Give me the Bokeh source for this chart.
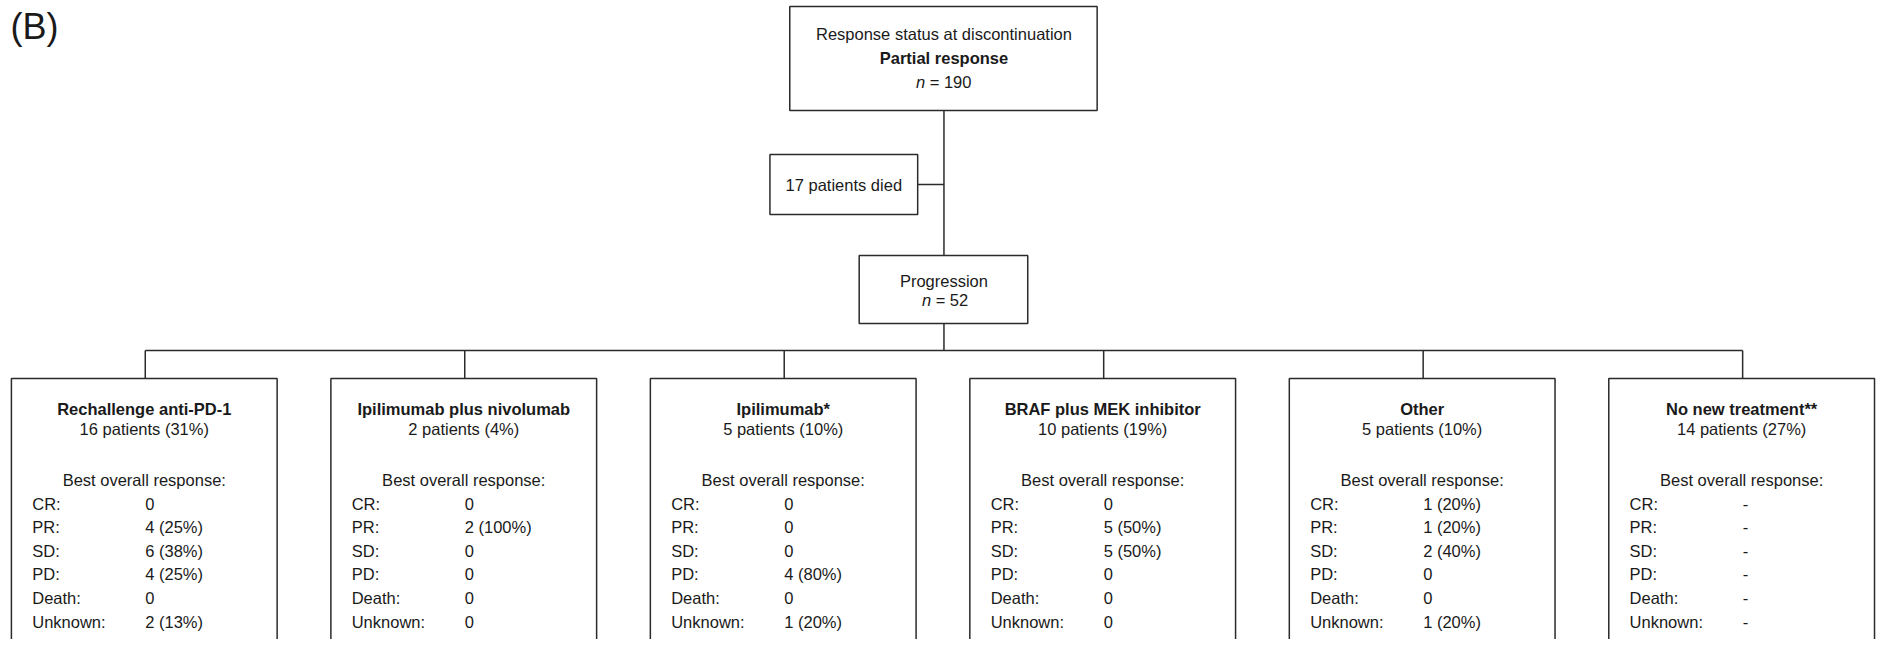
from bokeh.plotting import figure
from bokeh.models import Range1d
from bokeh.embed import file_html
from bokeh.resources import INLINE
from bokeh.core.properties import value

# ---------------- data ----------------
panel_label = "(B)"
top_title = "Response status at discontinuation"
top_status = "Partial response"
top_n = 190
died_n = 17
progression_label = "Progression"
progression_n = 52

treatments = ["Rechallenge anti-PD-1", "Ipilimumab plus nivolumab", "Ipilimumab*",
              "BRAF plus MEK inhibitor", "Other", "No new treatment**"]
patients = [16, 2, 5, 10, 5, 14]
percents = [31, 4, 10, 19, 10, 27]

response_header = "Best overall response:"
response_labels = ["CR:", "PR:", "SD:", "PD:", "Death:", "Unknown:"]
cr_values = ["0", "0", "0", "0", "1 (20%)", "-"]
pr_values = ["4 (25%)", "2 (100%)", "0", "5 (50%)", "1 (20%)", "-"]
sd_values = ["6 (38%)", "0", "0", "5 (50%)", "2 (40%)", "-"]
pd_values = ["4 (25%)", "0", "4 (80%)", "0", "0", "-"]
death_values = ["0", "0", "0", "0", "0", "-"]
unknown_values = ["2 (13%)", "0", "1 (20%)", "0", "1 (20%)", "-"]
response_values = [cr_values, pr_values, sd_values, pd_values, death_values, unknown_values]

# ---------------- layout / style ----------------
FONT = value("Liberation Sans")
FS = "16.5px"
TXT = "#1a1a1a"
LC = "#2b2b2b"
LW = 1.5
NB = "\u00a0"

# fits a 1892x655 window with the page's 8px margin
p = figure(width=1876, height=639, output_backend="svg", toolbar_location=None,
           x_range=Range1d(0, 1892), y_range=Range1d(639, 0),
           min_border=0, tools="")
p.axis.visible = False
p.grid.visible = False
p.outline_line_color = None
p.background_fill_color = "white"
p.border_fill_color = "white"


def txt(x, y, s, align="center", style="normal", size=FS):
    p.text(x=[x], y=[y], text=[s], text_font=FONT, text_font_size=size,
           text_font_style=style, text_color=TXT, text_align=align,
           text_baseline="middle")


def box(l, r, t, b):
    p.quad(left=[l], right=[r], top=[t], bottom=[b], fill_color="white",
           line_color=LC, line_width=LW)


def seg(x0, y0, x1, y1):
    p.segment(x0=[x0], y0=[y0], x1=[x1], y1=[y1], line_color=LC, line_width=LW)


CX = 951.5

# connectors
seg(CX, 110, CX, 255)
seg(925, 184, CX, 184)
seg(CX, 323, CX, 350)

box_lefts = [11 + i * 322.2 for i in range(len(treatments))]
drops = [l + 135 for l in box_lefts]
seg(drops[0], 350, drops[-1], 350)
for d in drops:
    seg(d, 350, d, 378)

# top box
box(796, 1106, 6, 110)
txt(CX, 33, top_title)
txt(CX, 57, top_status, style="bold")
txt(932.5, 81, "n", align="right", style="italic")
txt(932.5, 81, f"{NB}={NB}{top_n}", align="left")

# died box
box(776, 925, 154, 214)
txt(850.5, 184, f"{died_n} patients died")

# progression box
box(866, 1036, 255, 323)
txt(CX, 280, progression_label)
txt(938.5, 299, "n", align="right", style="italic")
txt(938.5, 299, f"{NB}={NB}{progression_n}", align="left")

# treatment boxes
for i, name in enumerate(treatments):
    l = box_lefts[i]
    c = l + 134
    box(l, l + 268, 378, 700)
    txt(c, 408, name, style="bold")
    txt(c, 428, f"{patients[i]} patients ({percents[i]}%)")
    txt(c, 479, response_header)
    for k, lab in enumerate(response_labels):
        y = 503 + k * 23.6
        txt(l + 21, y, lab, align="left")
        txt(l + 135, y, response_values[k][i], align="left")

# panel label
txt(10, 26, panel_label, align="left", size="36px")

open("out.html", "w").write(file_html(p, INLINE))
